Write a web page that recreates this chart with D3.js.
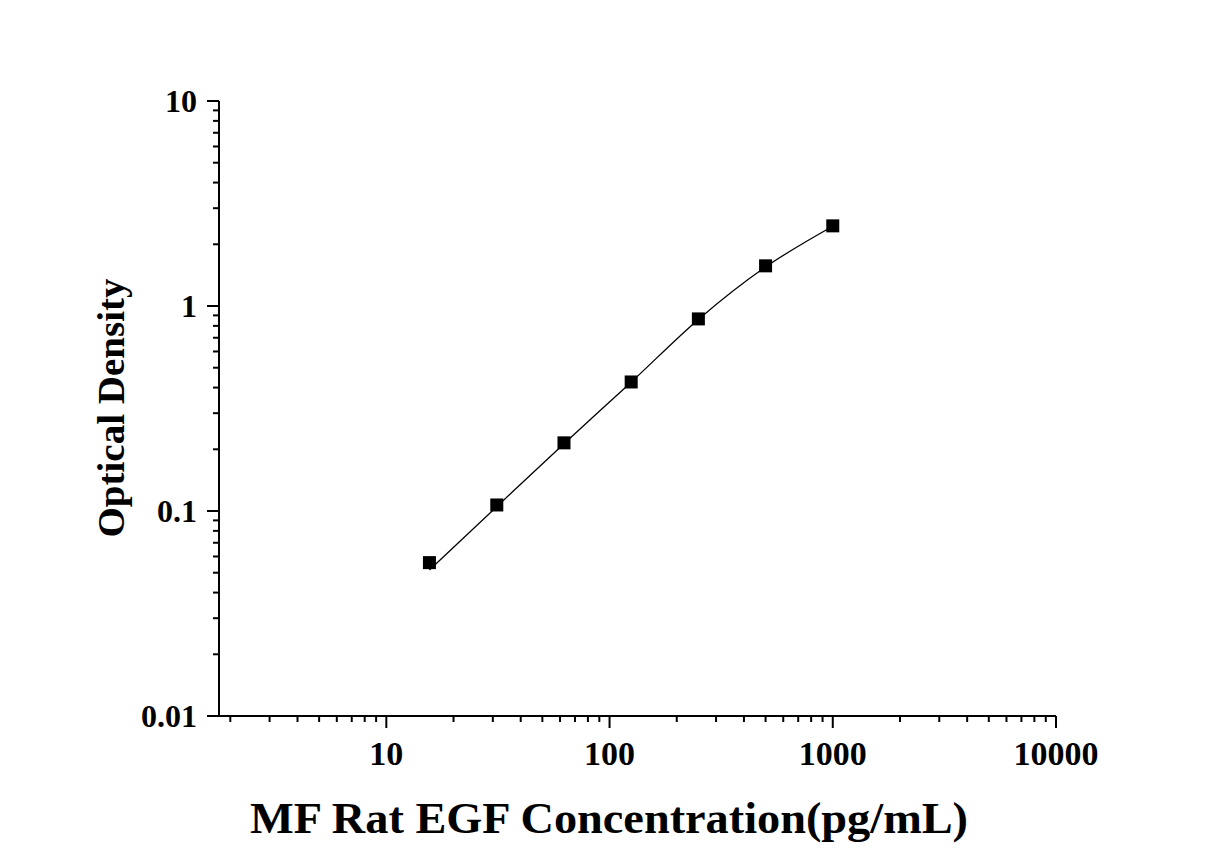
<!DOCTYPE html>
<html>
<head>
<meta charset="utf-8">
<script src="https://cdn.jsdelivr.net/npm/d3@7"></script>
<style>
  body { margin: 0; background: #fff; }
  text { font-family: "Liberation Serif", "Times New Roman", serif; font-weight: bold; fill: #000; }
</style>
</head>
<body>
<script>
// standard curve data
var concentrations = [15.6, 31.25, 62.5, 125, 250, 500, 1000];
var odValues = [0.056, 0.107, 0.215, 0.426, 0.865, 1.57, 2.46];
// fitted curve, read at the same concentrations
var fitValues = [0.0515, 0.105, 0.213, 0.425, 0.86, 1.55, 2.45];
var xTicks = [10, 100, 1000, 10000];
var yTicks = [0.01, 0.1, 1, 10];

var W = 1227, H = 858;
var svg = d3.select('body').append('svg').attr('width', W).attr('height', H);

var x = d3.scaleLog().domain([1.78, 10000]).range([219, 1056]);
var y = d3.scaleLog().domain([0.01, 10]).range([716, 101]);

// minor ticks
function minors(lo, hi) {
    var out = [];
    for (var e = Math.floor(Math.log10(lo)); e < Math.ceil(Math.log10(hi)); e++) {
        for (var k = 2; k <= 9; k++) {
            var v = k * Math.pow(10, e);
            if (v >= lo && v <= hi) out.push(v);
        }
    }
    return out;
}

var xMinor = minors(1.78, 10000), yMinor = minors(0.01, 10);

var g = svg.append('g').attr('stroke', '#000').attr('stroke-width', 2);
g.append('line').attr('x1', 219).attr('x2', 219).attr('y1', y(10)).attr('y2', 716);
g.append('line').attr('x1', 219).attr('x2', x(10000)).attr('y1', 716).attr('y2', 716);

g.selectAll('.xmaj').data(xTicks).enter().append('line')
    .attr('x1', function(d) { return x(d); }).attr('x2', function(d) { return x(d); })
    .attr('y1', 716).attr('y2', 728);
g.selectAll('.xmin').data(xMinor).enter().append('line')
    .attr('x1', function(d) { return x(d); }).attr('x2', function(d) { return x(d); })
    .attr('y1', 716).attr('y2', 722);
g.selectAll('.ymaj').data(yTicks).enter().append('line')
    .attr('y1', function(d) { return y(d); }).attr('y2', function(d) { return y(d); })
    .attr('x1', 207).attr('x2', 219);
g.selectAll('.ymin').data(yMinor).enter().append('line')
    .attr('y1', function(d) { return y(d); }).attr('y2', function(d) { return y(d); })
    .attr('x1', 213).attr('x2', 219);

// tick labels
svg.selectAll('.xl').data(xTicks).enter().append('text')
    .attr('x', function(d) { return x(d); }).attr('y', 765)
    .attr('text-anchor', 'middle').style('font-size', '34px')
    .text(function(d) { return d; });
svg.selectAll('.yl').data(yTicks).enter().append('text')
    .attr('x', 197).attr('y', function(d) { return y(d) + 11; })
    .attr('text-anchor', 'end').style('font-size', '32px')
    .text(function(d) { return d; });

// axis titles
svg.append('text').attr('x', 609).attr('y', 833).attr('text-anchor', 'middle')
    .style('font-size', '44px').attr('textLength', 718).attr('lengthAdjust', 'spacingAndGlyphs')
    .text('MF Rat EGF Concentration(pg/mL)');
svg.append('text').attr('transform', 'translate(124,408) rotate(-90)').attr('text-anchor', 'middle')
    .style('font-size', '38px').attr('textLength', 259).attr('lengthAdjust', 'spacingAndGlyphs')
    .text('Optical Density');

// fit line
var line = d3.line()
    .x(function(d, i) { return x(concentrations[i]); })
    .y(function(d) { return y(d); })
    .curve(d3.curveMonotoneX);
svg.append('path').datum(fitValues).attr('d', line)
    .attr('fill', 'none').attr('stroke', '#000').attr('stroke-width', 1.3);

// markers
svg.selectAll('.pt').data(odValues).enter().append('rect')
    .attr('x', function(d, i) { return x(concentrations[i]) - 6.5; })
    .attr('y', function(d) { return y(d) - 6.5; })
    .attr('width', 13).attr('height', 13).attr('fill', '#000');
</script>
</body>
</html>
